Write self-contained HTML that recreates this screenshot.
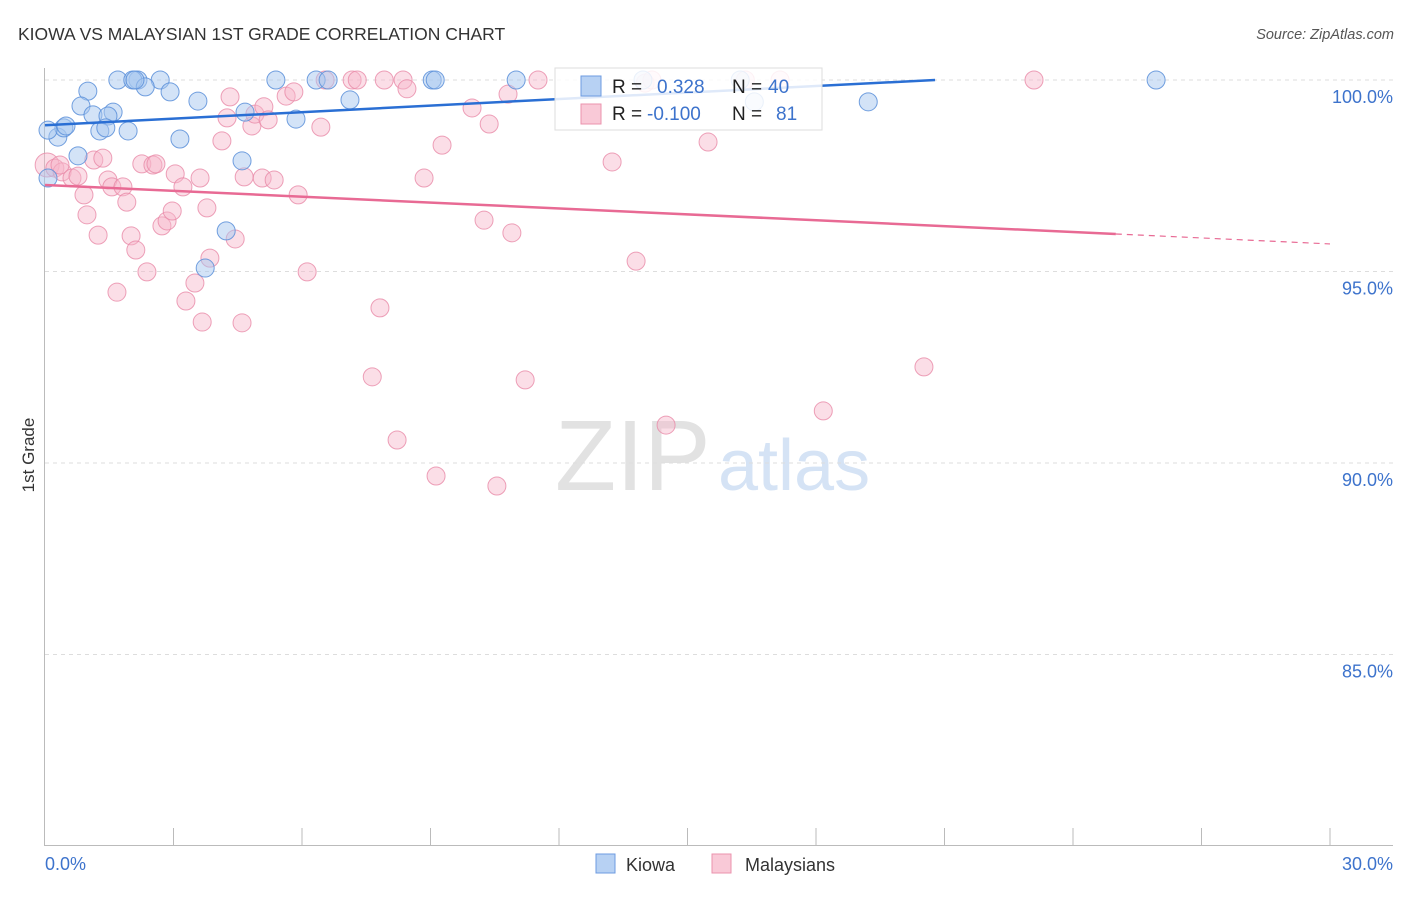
<!DOCTYPE html>
<html><head><meta charset="utf-8"><style>
body{margin:0;background:#fff;font-family:"Liberation Sans",sans-serif}
svg text{font-family:"Liberation Sans",sans-serif}
</style></head><body>
<svg id="chart" width="1406" height="892" xmlns="http://www.w3.org/2000/svg">
<text x="18" y="40" font-size="17.5" fill="#333">KIOWA VS MALAYSIAN 1ST GRADE CORRELATION CHART</text>
<text x="1394" y="39" font-size="14.5" fill="#555" text-anchor="end" font-style="italic">Source: ZipAtlas.com</text>
<g>
<text x="555" y="490" font-size="100" fill="#e2e2e2" font-family="Liberation Serif,serif">ZIP</text>
<text x="718" y="490" font-size="72" fill="#d5e3f5">atlas</text>
</g>
<g id="grid"></g>
<g id="axes"></g>
<g id="points"></g>
<g id="trends"></g>
<g>
<rect x="555" y="68" width="267" height="62" fill="#fff" fill-opacity="0.85" stroke="#ddd"/>
<rect x="581" y="76" width="20" height="20" fill="#b7d1f3" stroke="#6d9be0"/>
<rect x="581" y="104" width="20" height="20" fill="#f9c9d7" stroke="#eb93ae"/>
<text x="612" y="93" font-size="19" fill="#222">R = </text><text x="657" y="93" font-size="19" fill="#3d73cc">0.328</text>
<text x="732" y="93" font-size="19" fill="#222">N = </text><text x="768" y="93" font-size="19" fill="#3d73cc">40</text>
<text x="612" y="120" font-size="19" fill="#222">R = </text><text x="647" y="120" font-size="19" fill="#3d73cc">-0.100</text>
<text x="732" y="120" font-size="19" fill="#222">N = </text><text x="776" y="120" font-size="19" fill="#3d73cc">81</text>
</g>
<g>
<rect x="596" y="854" width="19" height="19" fill="#b7d1f3" stroke="#6d9be0"/>
<text x="626" y="871" font-size="18" fill="#333">Kiowa</text>
<rect x="712" y="854" width="19" height="19" fill="#f9c9d7" stroke="#eb93ae"/>
<text x="745" y="871" font-size="18" fill="#333">Malaysians</text>
</g>
<text transform="translate(34,455) rotate(-90)" font-size="17" fill="#333" text-anchor="middle">1st Grade</text>
</svg>
<script>
const yTicks=[100,95,90,85];
const yTickLabels=["100.0%","95.0%","90.0%","85.0%"];
const xTickLabels=["0.0%","30.0%"];
const kiowaX=[1.70,2.17,2.69,5.39,6.33,9.04,11.0,25.94,2.05,6.61,1.0,2.34,2.92,0.84,3.57,1.59,1.12,1.47,0.30,0.44,1.28,1.94,1.42,3.15,5.86,7.12,4.67,4.60,0.77,0.07,4.23,3.74,9.11,19.22,16.56,13.96,16.23,0.07,0.49,2.10];
const kiowaY=[100,100,100,100,100,100,100,100,100,100,99.71,99.82,99.69,99.32,99.45,99.16,99.09,99.06,98.51,98.75,98.67,98.67,98.75,98.46,98.98,99.48,99.16,97.89,98.02,97.44,96.06,95.09,100,99.43,99.43,100,100,98.69,98.80,100];
const malX=[0.05,0.23,0.40,0.35,0.63,0.77,0.91,0.98,1.14,1.24,1.35,1.47,1.56,1.68,1.82,1.91,2.01,2.12,2.26,2.38,2.52,2.59,2.73,2.85,2.97,3.04,3.22,3.29,3.50,3.67,3.78,3.85,4.13,4.25,4.32,4.44,4.60,4.65,4.83,4.90,5.07,5.11,5.21,5.35,5.63,5.81,5.91,6.12,6.44,6.54,7.17,7.29,7.82,7.64,7.92,8.22,8.36,8.45,8.85,9.13,9.27,9.97,10.25,10.37,10.55,10.81,10.90,11.21,11.51,13.24,13.80,14.01,14.17,14.50,15.48,16.35,17.16,18.17,20.52,23.09,3.62];
const malY=[97.78,97.70,97.60,97.78,97.44,97.49,97.0,96.48,97.91,95.95,97.96,97.39,97.21,94.46,97.21,96.81,95.93,95.56,97.81,94.99,97.78,97.81,96.19,96.32,96.58,97.55,97.21,94.23,94.70,93.68,96.66,95.35,98.41,99.01,99.56,95.85,93.66,97.47,98.80,99.11,97.44,99.30,98.96,97.39,99.58,99.69,97.0,94.99,98.77,100,100,100,94.05,92.25,100,90.60,100,99.77,97.44,89.66,98.30,99.27,96.34,98.85,89.40,99.63,96.01,92.17,100,97.86,95.27,99.92,100,90.99,98.38,100,100,91.36,92.51,100,97.44];
const kiowaTrend=[0,98.82,20.78,100];
const malTrend=[0,97.26,25,95.98,30,95.72];
const NS="http://www.w3.org/2000/svg";
const xs=v=>45+v/30*1285;
const ys=v=>80+(100-v)*38.3;
function mk(tag,attrs,parent){const e=document.createElementNS(NS,tag);for(const k in attrs)e.setAttribute(k,attrs[k]);document.getElementById(parent).appendChild(e);return e;}
yTicks.forEach((t,i)=>{
 const l=mk('line',{x1:45,x2:1393,y1:ys(t),y2:ys(t),stroke:'#ddd','stroke-dasharray':'4,4'},'grid');
 
 
 const tx=mk('text',{x:1393,y:ys(t)+23,'font-size':18,fill:'#3d73cc','text-anchor':'end'},'axes');
 tx.textContent=yTickLabels[i];
 
 
});
let a=mk('line',{x1:44.5,x2:44.5,y1:68,y2:845,stroke:'#bbb'},'axes');


a=mk('line',{x1:44,x2:1393,y1:845.5,y2:845.5,stroke:'#bbb'},'axes');


for(let i=1;i<=10;i++){const t=mk('line',{x1:xs(i*3),x2:xs(i*3),y1:828,y2:845,stroke:'#bbb'},'axes');
 
 }
[[0,'start',45],[30,'end',1393]].forEach((d,i)=>{const t=mk('text',{x:d[2],y:870,'font-size':18,fill:'#3d73cc','text-anchor':d[1]},'axes');t.textContent=xTickLabels[i];
 
 });
malX.forEach((x,i)=>{const c=mk('circle',{cx:xs(x),cy:ys(malY[i]),r:i==0?12:9,fill:'#f7b6ca','fill-opacity':0.45,stroke:'#e98aa8','stroke-opacity':0.8,'stroke-width':1},'points');
 
 });
kiowaX.forEach((x,i)=>{const c=mk('circle',{cx:xs(x),cy:ys(kiowaY[i]),r:9,fill:'#a8c7f0','fill-opacity':0.5,stroke:'#5b8fd9','stroke-opacity':0.85,'stroke-width':1},'points');
 
 });
let tl=mk('line',{x1:xs(kiowaTrend[0]),y1:ys(kiowaTrend[1]),x2:xs(kiowaTrend[2]),y2:ys(kiowaTrend[3]),stroke:'#2a6fd4','stroke-width':2.5},'trends');


tl=mk('line',{x1:xs(malTrend[0]),y1:ys(malTrend[1]),x2:xs(malTrend[2]),y2:ys(malTrend[3]),stroke:'#e86a94','stroke-width':2.5},'trends');


tl=mk('line',{x1:xs(malTrend[2]),y1:ys(malTrend[3]),x2:xs(malTrend[4]),y2:ys(malTrend[5]),stroke:'#e86a94','stroke-width':1.2,'stroke-dasharray':'6,5'},'trends');


</script>
</body></html>
